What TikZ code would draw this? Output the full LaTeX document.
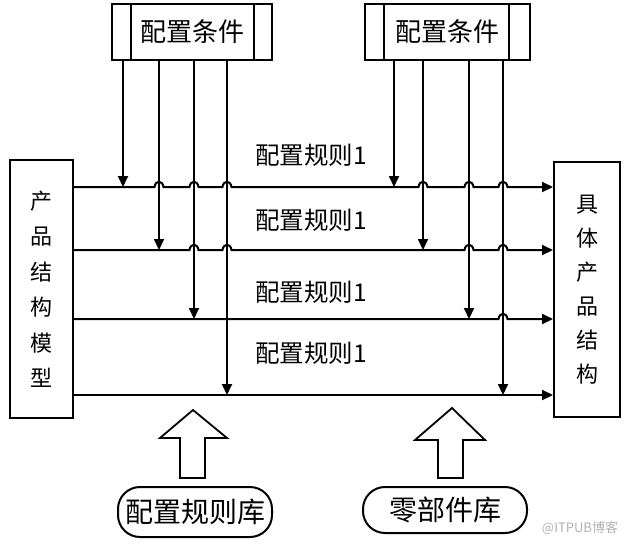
\documentclass[tikz,border=0pt]{standalone}
\usepackage{fontspec}
\setmainfont{Noto Sans CJK SC}
\usetikzlibrary{arrows.meta, positioning}

\begin{document}
\begin{tikzpicture}[
        x=1pt, y=-1pt,
        line width=2pt,
        condbox/.style={draw, minimum height=56pt, inner sep=0pt, font=\fontsize{26}{26}\selectfont},
        sidebox/.style={draw, align=center, inner sep=0pt},
        librarynode/.style={draw, rounded corners=22pt, inner sep=0pt, font=\fontsize{28}{28}\selectfont},
        rulelabel/.style={font=\fontsize{24.5}{24.5}\selectfont},
        flow/.style={-{Triangle[length=11pt, width=10pt]}},
        blockarrow/.style={draw, line width=1.8pt, line join=miter}
    ]
        \useasboundingbox (0,0) rectangle (627,547);
        % Condition boxes
        \node[condbox, minimum width=160pt] (condL) at (192,32) {配置条件};
        \node[condbox, minimum width=165pt] (condR) at (447.5,32) {配置条件};
        \draw ([xshift=20pt]condL.north west) -- ([xshift=20pt]condL.south west);
        \draw ([xshift=-19pt]condL.north east) -- ([xshift=-19pt]condL.south east);
        \draw ([xshift=20pt]condR.north west) -- ([xshift=20pt]condR.south west);
        \draw ([xshift=-22pt]condR.north east) -- ([xshift=-22pt]condR.south east);
        % Side boxes
        \node[sidebox, minimum width=63pt, minimum height=258pt, font=\fontsize{22}{35.5}\selectfont] (model) at (41.5,289) {产\\品\\结\\构\\模\\型};
        \node[sidebox, minimum width=66pt, minimum height=255pt, font=\fontsize{22}{34}\selectfont] (product) at (587,289.5) {具\\体\\产\\品\\结\\构};
        % Rule rows
        \foreach \i/\y in {1/187, 2/250, 3/319, 4/395} {
            \coordinate (row\i) at (0,\y);
        }
        \foreach \i/\y/\hops in {
            1/187/{159,194,227,423,469,503},
            2/250/{194,227,469,503},
            3/319/{503}} {
            \draw[flow] (model.east |- row\i) \foreach \h in \hops {
                -- (\h-4.5,\y) .. controls (\h-3.5,\y-7) and (\h+3.5,\y-7) .. (\h+4.5,\y)
            } -- (product.west |- row\i);
        }
        \draw[flow] (model.east |- row4) -- (product.west |- row4);
        % Rule labels
        \node[rulelabel] (rule1) at (311,155) {配置规则1};
        \node[rulelabel] (rule2) at (311,220) {配置规则1};
        \node[rulelabel] (rule3) at (311,292) {配置规则1};
        \node[rulelabel] (rule4) at (311,353) {配置规则1};
        % Conditions down to rows
        \foreach \x/\i in {123/1, 159/2, 194/3, 227/4} {
            \draw[flow] (condL.south -| \x,0) -- (\x,0 |- row\i);
        }
        \foreach \x/\i in {394/1, 423/2, 469/3, 503/4} {
            \draw[flow] (condR.south -| \x,0) -- (\x,0 |- row\i);
        }
        % Libraries
        \node[librarynode, minimum width=154pt, minimum height=50pt] (rulelib) at (195,512) {配置规则库};
        \node[librarynode, minimum width=164pt, minimum height=46pt] (partlib) at (445,510) {零部件库};
        \draw[blockarrow] (180,478) -- (180,438) -- (160,438) -- (193,410) -- (227,438) -- (205,438) -- (205,478) -- cycle;
        \draw[blockarrow] (438,478) -- (438,440) -- (415,440) -- (452,408) -- (485,440) -- (463,440) -- (463,478) -- cycle;
        % Watermark
        \node[text=gray!60, font=\fontsize{13}{13}\selectfont] (mark) at (580,528) {@ITPUB博客};
\end{tikzpicture}
\end{document}
